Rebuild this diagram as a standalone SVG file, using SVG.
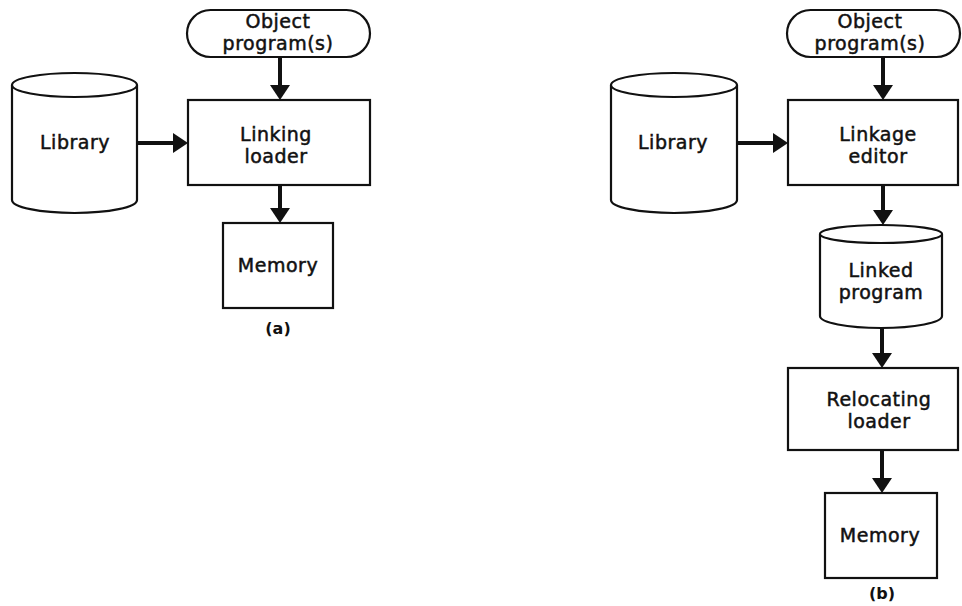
<svg xmlns="http://www.w3.org/2000/svg" width="962" height="606" viewBox="0 0 962 606">
<style>
  .shape { fill: #fff; stroke: #111; stroke-width: 2.2; }
  .lbl { font-family: "DejaVu Sans", "Liberation Sans", Arial, sans-serif; font-size: 19px; letter-spacing: 0.5px; fill: #111; stroke: #111; stroke-width: 0.5; text-anchor: middle; }
  .cap { font-family: "DejaVu Sans", "Liberation Sans", Arial, sans-serif; font-size: 16px; font-weight: bold; fill: #111; text-anchor: middle; }
  .conn { stroke: #111; stroke-width: 4; fill: none; marker-end: url(#arr); }
</style>
<defs>
  <marker id="arr" viewBox="0 0 15 20" refX="7" refY="10" markerWidth="15" markerHeight="20" markerUnits="userSpaceOnUse" orient="auto">
    <path d="M0,0 L15,10 L0,20 z" fill="#111"/>
  </marker>
</defs>
<rect width="962" height="606" fill="#fff"/>

<!-- (a) -->
<g id="a-object">
  <rect class="shape" x="187" y="10" width="183" height="47" rx="23.5" ry="23.5"/>
  <text class="lbl" x="278" y="28">Object</text>
  <text class="lbl" x="278" y="50">program(s)</text>
</g>
<g id="a-library">
  <path class="shape" d="M12,85 A62.5,12 0 0 1 137,85 L137,200 A62.5,13 0 0 1 12,200 Z"/>
  <path class="shape" d="M12,85 A62.5,12 0 0 0 137,85" fill="none"/>
  <text class="lbl" x="75" y="149">Library</text>
</g>
<g id="a-linking-loader">
  <rect class="shape" x="188" y="100" width="182" height="85"/>
  <text class="lbl" x="276" y="141">Linking</text>
  <text class="lbl" x="276" y="163">loader</text>
</g>
<g id="a-memory">
  <rect class="shape" x="223" y="223" width="110" height="85"/>
  <text class="lbl" x="278" y="272">Memory</text>
</g>
<text id="caption-a" class="cap" x="278" y="334">(a)</text>

<!-- (b) -->
<g id="b-object">
  <rect class="shape" x="787" y="10" width="173" height="47" rx="23.5" ry="23.5"/>
  <text class="lbl" x="870" y="28">Object</text>
  <text class="lbl" x="870" y="50">program(s)</text>
</g>
<g id="b-library">
  <path class="shape" d="M611,85 A63,12 0 0 1 737,85 L737,200 A63,13 0 0 1 611,200 Z"/>
  <path class="shape" d="M611,85 A63,12 0 0 0 737,85" fill="none"/>
  <text class="lbl" x="673" y="149">Library</text>
</g>
<g id="b-linkage-editor">
  <rect class="shape" x="788" y="100" width="170" height="85"/>
  <text class="lbl" x="878" y="141">Linkage</text>
  <text class="lbl" x="878" y="163">editor</text>
</g>
<g id="b-linked-program">
  <path class="shape" d="M820,234 A61,9 0 0 1 942,234 L942,316 A61,12 0 0 1 820,316 Z"/>
  <path class="shape" d="M820,234 A61,9 0 0 0 942,234" fill="none"/>
  <text class="lbl" x="881" y="277">Linked</text>
  <text class="lbl" x="881" y="299">program</text>
</g>
<g id="b-relocating-loader">
  <rect class="shape" x="788" y="368" width="170" height="82"/>
  <text class="lbl" x="879" y="406">Relocating</text>
  <text class="lbl" x="879" y="428">loader</text>
</g>
<g id="b-memory">
  <rect class="shape" x="825" y="493" width="112" height="85"/>
  <text class="lbl" x="880" y="542">Memory</text>
</g>
<text id="caption-b" class="cap" x="882" y="599">(b)</text>

<g id="connectors">
  <line class="conn" x1="280" y1="57" x2="280" y2="92"/>
  <line class="conn" x1="137" y1="143" x2="180" y2="143"/>
  <line class="conn" x1="280" y1="185" x2="280" y2="215"/>
  <line class="conn" x1="883" y1="57" x2="883" y2="92"/>
  <line class="conn" x1="737" y1="143" x2="780" y2="143"/>
  <line class="conn" x1="883" y1="185" x2="883" y2="217"/>
  <line class="conn" x1="882" y1="328" x2="882" y2="360"/>
  <line class="conn" x1="882" y1="450" x2="882" y2="485"/>
</g>
</svg>
